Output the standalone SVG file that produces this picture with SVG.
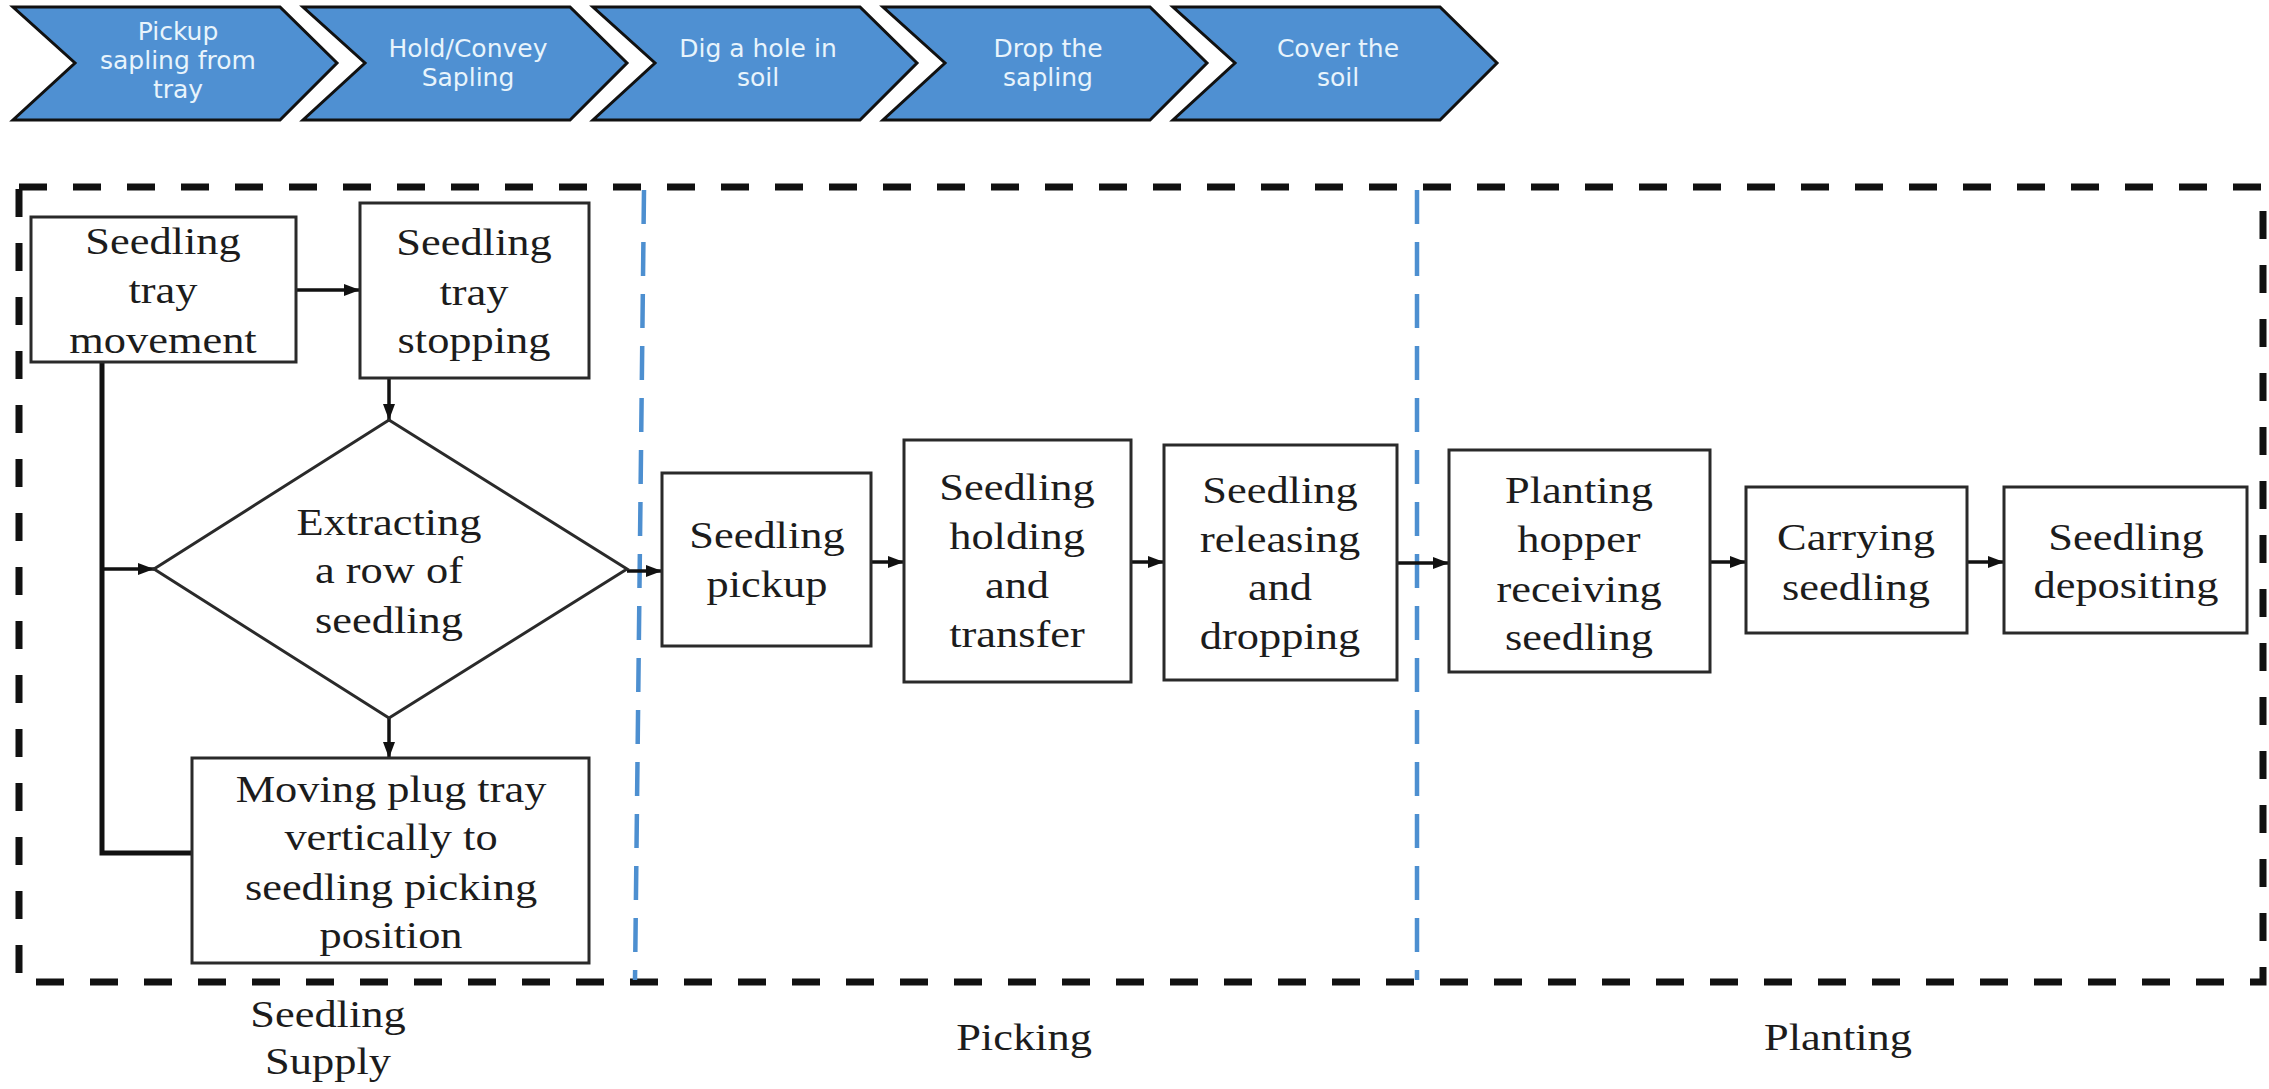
<svg xmlns="http://www.w3.org/2000/svg" width="2269" height="1089" viewBox="0 0 2269 1089">
<style>
.chev{fill:#4f90d2;stroke:#111;stroke-width:3;stroke-linejoin:miter}
.ct{font-family:"DejaVu Sans","Liberation Sans",sans-serif;font-size:25px;fill:#e8f4fc;text-anchor:middle}
.box{fill:#fff;stroke:#2a2a2a;stroke-width:3}
.t{font-family:"Liberation Serif","Times New Roman",serif;font-size:37px;fill:#1c1c1c;text-anchor:middle}
.conn{fill:none;stroke:#111;stroke-width:3.5}
.thick{fill:none;stroke:#111;stroke-width:5}
.border{fill:none;stroke:#111;stroke-width:7;stroke-dasharray:28 26}
.blue{fill:none;stroke:#4d8fd0;stroke-width:4.5;stroke-dasharray:34 18}
</style>
<defs>
<marker id="ah" markerUnits="userSpaceOnUse" markerWidth="16" markerHeight="12" refX="16" refY="6" orient="auto">
<path d="M0,0 L16,6 L0,12 Z" fill="#111"/>
</marker>
</defs>
<rect width="2269" height="1089" fill="#fff"/>

<g id="stage-pickup">
<polygon class="chev" points="13,7 280,7 337,63 280,120 13,120 75,63"/>
<text class="ct"><tspan x="178" y="40">Pickup</tspan><tspan x="178" y="69">sapling from</tspan><tspan x="178" y="98">tray</tspan></text>
</g>
<g id="stage-hold">
<polygon class="chev" points="303,7 570,7 627,63 570,120 303,120 365,63"/>
<text class="ct"><tspan x="468" y="57">Hold/Convey</tspan><tspan x="468" y="86">Sapling</tspan></text>
</g>
<g id="stage-dig">
<polygon class="chev" points="593,7 860,7 917,63 860,120 593,120 655,63"/>
<text class="ct"><tspan x="758" y="57">Dig a hole in</tspan><tspan x="758" y="86">soil</tspan></text>
</g>
<g id="stage-drop">
<polygon class="chev" points="883,7 1150,7 1207,63 1150,120 883,120 945,63"/>
<text class="ct"><tspan x="1048" y="57">Drop the</tspan><tspan x="1048" y="86">sapling</tspan></text>
</g>
<g id="stage-cover">
<polygon class="chev" points="1173,7 1440,7 1497,63 1440,120 1173,120 1235,63"/>
<text class="ct"><tspan x="1338" y="57">Cover the</tspan><tspan x="1338" y="86">soil</tspan></text>
</g>

<g id="frame">
<rect class="border" x="19" y="187" width="2244" height="795"/>
<line class="blue" x1="644" y1="190" x2="635" y2="980"/>
<line class="blue" x1="1417" y1="190" x2="1417" y2="980"/>
</g>

<g id="connectors">
<line class="conn" x1="296" y1="290" x2="360" y2="290" marker-end="url(#ah)"/>
<line class="conn" x1="389" y1="378" x2="389" y2="420" marker-end="url(#ah)"/>
<line class="conn" x1="389" y1="718" x2="389" y2="758" marker-end="url(#ah)"/>
<polyline class="thick" points="102,362 102,853 192,853"/>
<line class="conn" x1="102" y1="569" x2="154" y2="569" marker-end="url(#ah)"/>
<line class="conn" x1="627" y1="571" x2="662" y2="571" marker-end="url(#ah)"/>
<line class="conn" x1="871" y1="562" x2="904" y2="562" marker-end="url(#ah)"/>
<line class="conn" x1="1131" y1="562" x2="1164" y2="562" marker-end="url(#ah)"/>
<line class="conn" x1="1397" y1="563" x2="1449" y2="563" marker-end="url(#ah)"/>
<line class="conn" x1="1710" y1="562" x2="1746" y2="562" marker-end="url(#ah)"/>
<line class="conn" x1="1967" y1="562" x2="2004" y2="562" marker-end="url(#ah)"/>
</g>

<g id="tray-movement">
<rect class="box" x="31" y="217" width="265" height="145"/>
<text class="t" transform="translate(163,0) scale(1.2,1)"><tspan x="0" y="254">Seedling</tspan><tspan x="0" y="303">tray</tspan><tspan x="0" y="353">movement</tspan></text>
</g>
<g id="tray-stopping">
<rect class="box" x="360" y="203" width="229" height="175"/>
<text class="t" transform="translate(474,0) scale(1.2,1)"><tspan x="0" y="255">Seedling</tspan><tspan x="0" y="305">tray</tspan><tspan x="0" y="353">stopping</tspan></text>
</g>
<g id="extracting">
<polygon class="box" points="389,420 627,569 389,718 154,569"/>
<text class="t" transform="translate(389,0) scale(1.2,1)"><tspan x="0" y="535">Extracting</tspan><tspan x="0" y="583">a row of</tspan><tspan x="0" y="633">seedling</tspan></text>
</g>
<g id="moving-plug-tray">
<rect class="box" x="192" y="758" width="397" height="205"/>
<text class="t" transform="translate(391,0) scale(1.2,1)"><tspan x="0" y="802">Moving plug tray</tspan><tspan x="0" y="850">vertically to</tspan><tspan x="0" y="900">seedling picking</tspan><tspan x="0" y="948">position</tspan></text>
</g>
<g id="seedling-pickup">
<rect class="box" x="662" y="473" width="209" height="173"/>
<text class="t" transform="translate(767,0) scale(1.2,1)"><tspan x="0" y="548">Seedling</tspan><tspan x="0" y="597">pickup</tspan></text>
</g>
<g id="holding-transfer">
<rect class="box" x="904" y="440" width="227" height="242"/>
<text class="t" transform="translate(1017,0) scale(1.2,1)"><tspan x="0" y="500">Seedling</tspan><tspan x="0" y="549">holding</tspan><tspan x="0" y="598">and</tspan><tspan x="0" y="647">transfer</tspan></text>
</g>
<g id="releasing-dropping">
<rect class="box" x="1164" y="445" width="233" height="235"/>
<text class="t" transform="translate(1280,0) scale(1.2,1)"><tspan x="0" y="503">Seedling</tspan><tspan x="0" y="552">releasing</tspan><tspan x="0" y="600">and</tspan><tspan x="0" y="649">dropping</tspan></text>
</g>
<g id="hopper-receiving">
<rect class="box" x="1449" y="450" width="261" height="222"/>
<text class="t" transform="translate(1579,0) scale(1.2,1)"><tspan x="0" y="503">Planting</tspan><tspan x="0" y="552">hopper</tspan><tspan x="0" y="602">receiving</tspan><tspan x="0" y="650">seedling</tspan></text>
</g>
<g id="carrying">
<rect class="box" x="1746" y="487" width="221" height="146"/>
<text class="t" transform="translate(1856,0) scale(1.2,1)"><tspan x="0" y="550">Carrying</tspan><tspan x="0" y="600">seedling</tspan></text>
</g>
<g id="depositing">
<rect class="box" x="2004" y="487" width="243" height="146"/>
<text class="t" transform="translate(2126,0) scale(1.2,1)"><tspan x="0" y="550">Seedling</tspan><tspan x="0" y="598">depositing</tspan></text>
</g>

<g id="labels">
<text class="t" transform="translate(328,0) scale(1.2,1)"><tspan x="0" y="1027">Seedling</tspan><tspan x="0" y="1074">Supply</tspan></text>
<text class="t" transform="translate(1024,0) scale(1.2,1)"><tspan x="0" y="1050">Picking</tspan></text>
<text class="t" transform="translate(1838,0) scale(1.2,1)"><tspan x="0" y="1050">Planting</tspan></text>
</g>
</svg>
